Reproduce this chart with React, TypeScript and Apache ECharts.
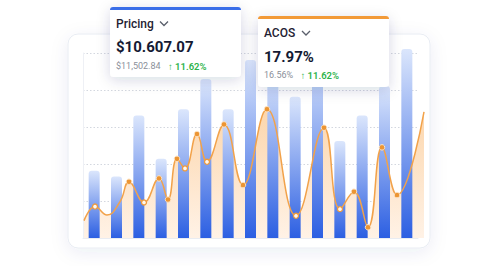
import React, { useEffect, useRef } from "react";
import * as echarts from "echarts";

// Bars (15 categories), values in grid units (gridline step = 1)
const categories = ["1", "2", "3", "4", "5", "6", "7", "8", "9", "10", "11", "12", "13", "14", "15"];
const barValues = [1.82, 1.66, 3.31, 2.14, 3.48, 4.3, 3.48, 4.81, 4.5, 3.82, 4.9, 2.62, 3.31, 4.1, 5.11];

// Smooth line (independent x positions on a 0..340 value scale)
const lineX = [0, 11, 23, 36, 45, 60, 75, 84, 93, 101, 113, 123, 140, 159, 183, 212, 240, 256, 270, 284, 298, 313, 340];
const lineY = [0.47, 0.85, 0.62, 0.98, 1.52, 0.96, 1.61, 1.04, 2.14, 1.88, 2.81, 2.06, 3.07, 1.43, 3.48, 0.6, 2.98, 0.78, 1.25, 0.29, 2.45, 1.16, 3.41];
// marker kind per point: 0 none, 1 filled, 2 ring
const lineMarker = [0, 2, 0, 0, 1, 2, 1, 1, 1, 2, 1, 2, 1, 1, 1, 2, 1, 2, 1, 1, 1, 1, 0];

// Card texts
const pricingTitle = "Pricing";
const pricingValue = "$10.607.07";
const pricingPrev = "$11,502.84";
const pricingChange = "↑ 11.62%";
const acosTitle = "ACOS";
const acosValue = "17.97%";
const acosPrev = "16.56%";
const acosChange = "↑ 11.62%";

const FONT = "Roboto, 'Noto Sans', sans-serif";
const ORANGE = "#f2a24a";

export default function App() {
  const ref = useRef<HTMLDivElement>(null);
  useEffect(() => {
    if (!ref.current) return;
    const chart = echarts.init(ref.current, undefined, { renderer: "svg" });

    const points = lineX.map((x, i) => [x, lineY[i]]);
    const lineData = lineX.map((x, i) => {
      const k = lineMarker[i];
      if (k === 0) return { value: [x, lineY[i]], symbol: "none" };
      if (k === 2)
        return {
          value: [x, lineY[i]],
          symbol: "circle",
          symbolSize: 5,
          itemStyle: { color: "#fff7ee", borderColor: "#ee9a3c", borderWidth: 1.3 },
        };
      return {
        value: [x, lineY[i]],
        symbol: "circle",
        symbolSize: 5.5,
        itemStyle: { color: "#ec9533", borderColor: "#fde2c2", borderWidth: 1 },
      };
    });

    const card = (x: number, y: number, w: number, h: number, accent: string) => [
      {
        type: "rect",
        z: 100,
        shape: { x, y, width: w, height: h, r: 4 },
        style: {
          fill: "#ffffff",
          shadowBlur: 14,
          shadowOffsetY: 3,
          shadowColor: "rgba(30,45,90,0.16)",
        },
      },
      {
        type: "rect",
        z: 101,
        shape: { x, y, width: w, height: 3, r: [4, 4, 0, 0] },
        style: { fill: accent },
      },
    ];

    const txt = (text: string, x: number, y: number, font: string, fill: string) => ({
      type: "text",
      z: 102,
      style: { text, x, y, font, fill, verticalAlign: "middle", align: "left" },
    });

    const chevron = (x: number, y: number) => ({
      type: "polyline",
      z: 102,
      shape: { points: [[x, y], [x + 4, y + 4], [x + 8, y]] },
      style: { stroke: "#5a5f6b", lineWidth: 1.3, fill: "none" },
    });

    chart.setOption({
      animation: false,
      grid: [
        { left: 83, right: 82, top: 53, bottom: 28 },
        { left: 84, right: 76, top: 53, bottom: 28 },
      ],
      xAxis: [
        {
          type: "category",
          gridIndex: 0,
          data: categories,
          axisLine: { show: true, lineStyle: { color: "#e9ecf2" } },
          axisTick: { show: false },
          axisLabel: { show: false },
        },
        {
          type: "value",
          gridIndex: 1,
          min: 0,
          max: 340,
          show: false,
          splitLine: { show: false },
        },
      ],
      yAxis: [
        {
          type: "value",
          gridIndex: 0,
          min: 0,
          max: 5,
          interval: 1,
          axisLine: { show: true, lineStyle: { color: "#eef0f5" } },
          axisTick: { show: false },
          axisLabel: { show: false },
          splitLine: { show: true, lineStyle: { color: "#d3d7df", type: [1.5, 2], width: 1 } },
        },
        {
          type: "value",
          gridIndex: 1,
          min: 0,
          max: 5,
          show: false,
          splitLine: { show: false },
        },
      ],
      graphic: [
        {
          type: "rect",
          z: -10,
          silent: true,
          shape: { x: 68, y: 34, width: 362, height: 214, r: 10 },
          style: {
            fill: "#ffffff",
            stroke: "#e8ecf3",
            lineWidth: 1,
            shadowBlur: 18,
            shadowOffsetY: 4,
            shadowColor: "rgba(40,60,120,0.08)",
          },
        },
        ...card(110, 7, 131, 70, "#3a6ee8"),
        txt(pricingTitle, 116, 23.5, `500 12px ${FONT}`, "#1f2233"),
        chevron(160, 21.5),
        txt(pricingValue, 116, 46.5, `bold 15px ${FONT}`, "#141a33"),
        txt(pricingPrev, 116, 66, `9px ${FONT}`, "#8b909a"),
        txt(pricingChange, 168, 66, `600 9.5px ${FONT}`, "#2db34a"),
        ...card(258, 16, 131, 71, "#f29a38"),
        txt(acosTitle, 264, 33, `500 12px ${FONT}`, "#1f2233"),
        chevron(302, 31),
        txt(acosValue, 264, 56.5, `bold 15px ${FONT}`, "#141a33"),
        txt(acosPrev, 264, 75, `9px ${FONT}`, "#8b909a"),
        txt(acosChange, 300.5, 75, `600 9.5px ${FONT}`, "#2db34a"),
      ],
      series: [
        {
          type: "line",
          xAxisIndex: 1,
          yAxisIndex: 1,
          data: points,
          smooth: 0.45,
          clip: false,
          z: 1,
          symbol: "none",
          lineStyle: { width: 0, opacity: 0 },
          areaStyle: {
            opacity: 1,
            color: new echarts.graphic.LinearGradient(0, 0, 0, 1, [
              { offset: 0, color: "#fcd6ac" },
              { offset: 1, color: "#fff2e6" },
            ]),
          },
        },
        {
          type: "bar",
          xAxisIndex: 0,
          yAxisIndex: 0,
          data: barValues,
          barWidth: 11,
          clip: false,
          z: 2,
          itemStyle: {
            borderRadius: [3, 3, 0, 0],
            color: new echarts.graphic.LinearGradient(0, 0, 0, 1, [
              { offset: 0, color: "#dbe6fc" },
              { offset: 1, color: "#2c5fe2" },
            ]),
          },
        },
        {
          type: "line",
          xAxisIndex: 1,
          yAxisIndex: 1,
          data: lineData,
          smooth: 0.45,
          clip: false,
          z: 3,
          lineStyle: { color: ORANGE, width: 1.5 },
          itemStyle: { color: ORANGE },
        },
      ],
    });
    return () => chart.dispose();
  }, []);
  return (
    <div
      ref={ref}
      style={{ position: "fixed", left: 0, top: 0, width: 500, height: 266, background: "#ffffff" }}
    />
  );
}
